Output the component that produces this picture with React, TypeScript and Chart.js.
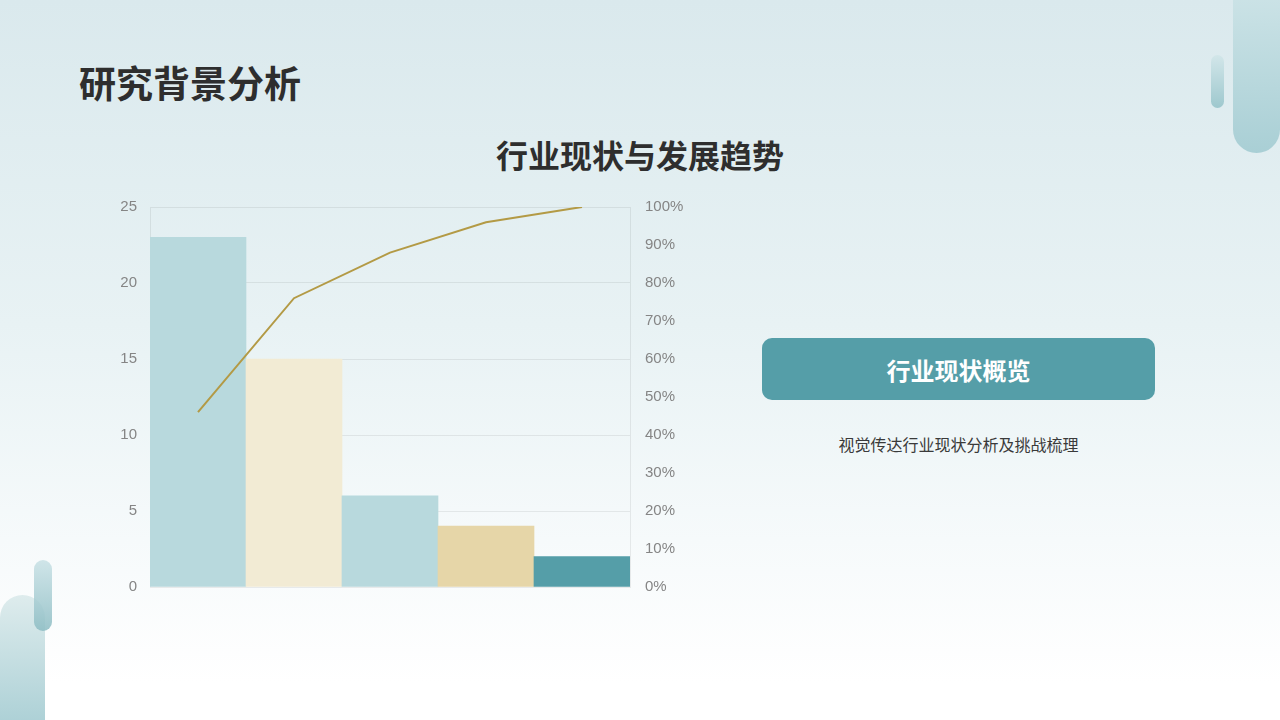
import React, { useEffect, useRef } from "react";
import { Chart, registerables } from "chart.js";

Chart.register(...registerables);

const categories = ["A", "B", "C", "D", "E"];
const barValues = [23, 15, 6, 4, 2];
const cumulativePercent = [46, 76, 88, 96, 100];
const barColors = ["#b8d9dd", "#f2ebd4", "#b8d9dd", "#e6d6a8", "#559ea8"];
const leftTicks = [0, 5, 10, 15, 20, 25];
const rightTicks = [0, 10, 20, 30, 40, 50, 60, 70, 80, 90, 100];

const CJK = '"Noto Sans CJK SC", "Noto Sans", sans-serif';

function ParetoChart() {
  const ref = useRef<HTMLCanvasElement | null>(null);
  useEffect(() => {
    if (!ref.current) return;
    const chart = new Chart(ref.current, {
      type: "bar",
      data: {
        labels: categories,
        datasets: [
          {
            type: "line",
            data: cumulativePercent,
            yAxisID: "y1",
            borderColor: "#b39a45",
            borderWidth: 2,
            pointRadius: 0,
            tension: 0,
            fill: false,
            order: 0,
          } as any,
          {
            type: "bar",
            data: barValues,
            yAxisID: "y",
            backgroundColor: barColors,
            categoryPercentage: 1,
            barPercentage: 1,
            borderWidth: 0,
            order: 1,
          },
        ],
      },
      options: {
        animation: false,
        responsive: false,
        maintainAspectRatio: false,
        layout: { padding: 0 },
        plugins: { legend: { display: false }, tooltip: { enabled: false } },
        scales: {
          x: { display: false, grid: { display: false } },
          y: {
            position: "left",
            min: 0,
            max: 25,
            afterBuildTicks: (s: any) => {
              s.ticks = leftTicks.map((v) => ({ value: v }));
            },
            afterFit: (s: any) => {
              s.width = 50;
            },
            ticks: {
              color: "#858585",
              font: { family: '"Liberation Sans", Arial, sans-serif', size: 15 },
              padding: 13,
            },
            grid: { color: "rgba(0,0,0,0.07)", drawTicks: false },
            border: { display: true, color: "rgba(0,0,0,0.07)" },
          },
          y1: {
            position: "right",
            min: 0,
            max: 100,
            afterBuildTicks: (s: any) => {
              s.ticks = rightTicks.map((v) => ({ value: v }));
            },
            afterFit: (s: any) => {
              s.width = 70;
            },
            ticks: {
              color: "#858585",
              font: { family: '"Liberation Sans", Arial, sans-serif', size: 15 },
              padding: 15,
              callback: (v: any) => v + "%",
            },
            grid: { display: false, drawTicks: false },
            border: { display: true, color: "rgba(0,0,0,0.07)" },
          },
        },
      },
    });
    return () => chart.destroy();
  }, []);
  return (
    <canvas
      ref={ref}
      width={600}
      height={428}
      style={{ position: "absolute", left: 100, top: 183, width: 600, height: 428 }}
    />
  );
}

export default function App() {
  return (
    <div
      style={{
        position: "fixed",
        left: 0,
        top: 0,
        width: 1280,
        height: 720,
        overflow: "hidden",
        background: "linear-gradient(180deg, #dae9ed 0%, #e8f2f4 45%, #f6fafb 75%, #ffffff 95%)",
        fontFamily: CJK,
      }}
    >
      {/* decorations */}
      <div
        style={{
          position: "absolute",
          left: 1233,
          top: -40,
          width: 47,
          height: 193,
          borderRadius: "0 0 24px 24px",
          background: "linear-gradient(180deg, #d3e7ea 0%, #a9cfd5 100%)",
        }}
      />
      <div
        style={{
          position: "absolute",
          left: 1211,
          top: 55,
          width: 13,
          height: 53,
          borderRadius: 7,
          background: "linear-gradient(180deg, #d2e6e9 0%, #9ec8ce 100%)",
        }}
      />
      <div
        style={{
          position: "absolute",
          left: 0,
          top: 595,
          width: 45,
          height: 140,
          borderRadius: "23px 23px 0 0",
          background: "linear-gradient(180deg, #deeced 0%, #a8ced4 100%)",
        }}
      />
      <div
        style={{
          position: "absolute",
          left: 34,
          top: 560,
          width: 18,
          height: 71,
          borderRadius: 9,
          background: "linear-gradient(180deg, rgba(200,225,229,0.85) 0%, rgba(140,188,195,0.85) 100%)",
        }}
      />

      <div
        style={{
          position: "absolute",
          left: 79,
          top: 57,
          fontSize: 37,
          fontWeight: 700,
          color: "#2e2e2e",
          lineHeight: "50px",
          whiteSpace: "nowrap",
        }}
      >
        研究背景分析
      </div>

      <div
        style={{
          position: "absolute",
          left: 340,
          width: 600,
          top: 132,
          textAlign: "center",
          fontSize: 32,
          fontWeight: 700,
          color: "#2e2e2e",
          lineHeight: "44px",
        }}
      >
        行业现状与发展趋势
      </div>

      <ParetoChart />

      <div
        style={{
          position: "absolute",
          left: 762,
          top: 338,
          width: 393,
          height: 62,
          borderRadius: 10,
          background: "#559ea8",
          color: "#ffffff",
          fontSize: 24,
          fontWeight: 700,
          display: "flex",
          alignItems: "center",
          justifyContent: "center",
        }}
      >
        行业现状概览
      </div>

      <div
        style={{
          position: "absolute",
          left: 762,
          width: 393,
          top: 432,
          textAlign: "center",
          fontSize: 16,
          color: "#3a3a3a",
          lineHeight: "24px",
        }}
      >
        视觉传达行业现状分析及挑战梳理
      </div>
    </div>
  );
}
